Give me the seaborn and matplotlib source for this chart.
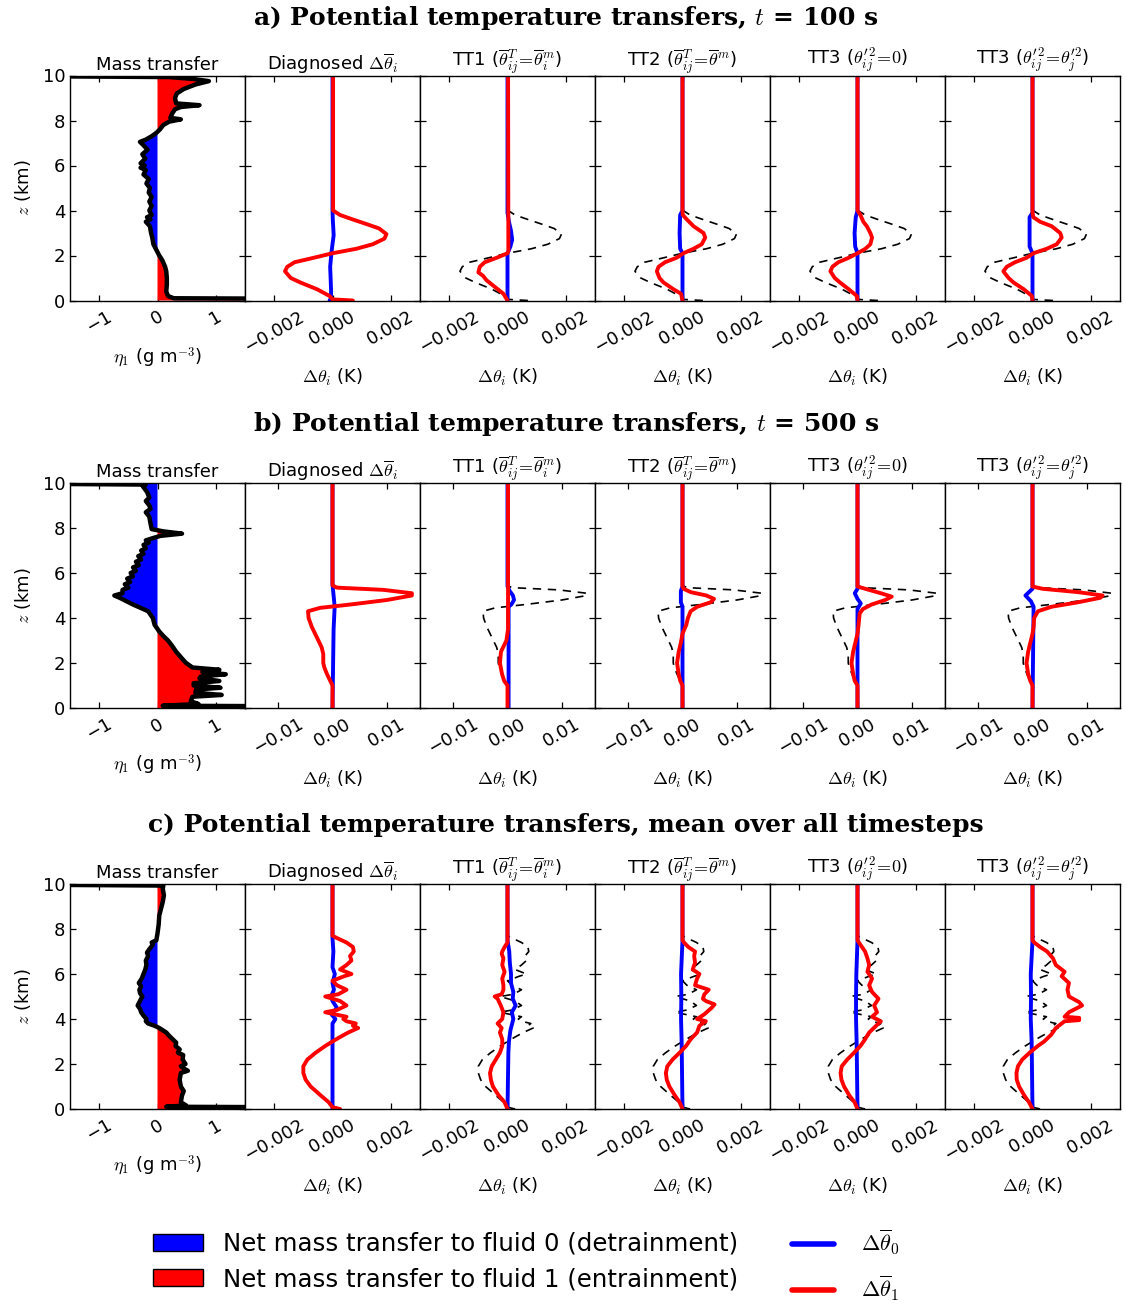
import numpy as np
import matplotlib
matplotlib.use("Agg")
import matplotlib.pyplot as plt
import seaborn as sns
from matplotlib.patches import Patch
from matplotlib.lines import Line2D

# ---------------- DATA ----------------
# Row a: t = 100 s
a_mass_z = [0.0, 0.06, 0.1, 0.2, 0.4, 0.7, 1.0, 1.3, 1.5, 1.8, 2.0, 2.3, 2.5, 2.8, 3.0, 3.3, 3.5, 3.6, 3.7, 3.8,
            4.0, 4.2, 4.4, 4.6, 4.8, 5.0, 5.2, 5.4, 5.6, 5.8, 5.9, 6.0, 6.1, 6.3, 6.5, 6.7, 6.9, 7.05, 7.15, 7.3,
            7.45, 7.6, 7.8, 7.95, 8.05, 8.12, 8.3, 8.5, 8.6, 8.68, 8.76, 9.0, 9.2, 9.4, 9.6, 9.75, 9.85, 9.93, 10.0]
a_mass_v = [4.0, 4.0, 0.28, 0.18, 0.15, 0.16, 0.16, 0.15, 0.13, 0.08, 0.03, -0.03, -0.07, -0.09, -0.11, -0.13, -0.2, -0.12, -0.18, -0.1,
            -0.14, -0.1, -0.14, -0.1, -0.15, -0.13, -0.19, -0.15, -0.24, -0.2, -0.29, -0.22, -0.29, -0.21, -0.26, -0.17, -0.24, -0.3, -0.2, -0.1,
            -0.02, 0.04, 0.1, 0.2, 0.4, 0.22, 0.25, 0.3, 0.4, 0.72, 0.32, 0.3, 0.33, 0.45, 0.65, 0.88, 0.6, 0.2, -4.0]

a_diag_red_z = [0.0, 0.05, 0.2, 0.5, 0.8, 1.0, 1.3, 1.5, 1.7, 1.9, 2.1, 2.3, 2.5, 2.75, 2.95, 3.2, 3.4, 3.6, 3.8, 4.0, 10.0]
a_diag_red_v = [0.0007, 0.0, -0.0001, -0.00053, -0.0011, -0.00143, -0.00163, -0.00155, -0.0013, -0.00064, 0.0, 0.00082,
                0.00138, 0.00178, 0.00185, 0.0016, 0.00116, 0.0007, 0.00026, 0.00002, 0.00002]
a_diag_blue_z = [0.0, 0.1, 0.5, 1.5, 2.2, 2.9, 3.6, 4.0, 10.0]
a_diag_blue_v = [-0.0001, -0.00005, -0.00005, -0.00008, -0.00003, 0.00004, 0.00001, 0.0, 0.0]

a_tt1_red_z = [0.0, 0.3, 0.6, 0.9, 1.1, 1.25, 1.5, 1.7, 1.9, 2.1, 2.2, 10.0]
a_tt1_red_v = [0.0, -0.00014, -0.00043, -0.00072, -0.00084, -0.001, -0.00095, -0.00078, -0.00037, 0.0, 0.00003, 0.00002]
a_tt1_blue_z = [0.0, 2.1, 2.4, 2.7, 3.1, 3.5, 3.9, 10.0]
a_tt1_blue_v = [0.0, 0.0, 0.0001, 0.00016, 0.00012, 0.00005, 0.0, 0.0]

a_tt2_red_z = [0.0, 0.3, 0.5, 0.8, 1.0, 1.3, 1.5, 1.7, 1.9, 2.1, 2.3, 2.5, 2.8, 3.0, 3.3, 3.6, 3.8, 4.0, 10.0]
a_tt2_red_v = [0.0, -0.00005, -0.00031, -0.00065, -0.00079, -0.00088, -0.00082, -0.0006, -0.0002, 0.00003, 0.00038,
               0.00066, 0.00078, 0.00072, 0.00038, 0.00015, 0.00001, 0.0, 0.0]
a_tt2_blue_z = [0.0, 2.1, 2.3, 3.0, 3.8, 4.0, 10.0]
a_tt2_blue_v = [0.0, 0.0, -0.00008, -0.0001, -0.00008, 0.0, 0.0]

a_tt3a_red_z = [0.0, 0.2, 0.5, 0.8, 1.0, 1.3, 1.5, 1.7, 1.9, 2.1, 2.3, 2.5, 2.8, 3.0, 3.3, 3.5, 3.8, 4.0, 10.0]
a_tt3a_red_v = [0.0, -0.00002, -0.0003, -0.0006, -0.00078, -0.00093, -0.00086, -0.00066, -0.0003, 0.0, 0.00027,
                0.00044, 0.0005, 0.00044, 0.00032, 0.0002, 0.0001, 0.0, 0.0]
a_tt3a_blue_z = [0.0, 2.1, 2.4, 3.0, 3.7, 4.0, 10.0]
a_tt3a_blue_v = [0.0, 0.0, -0.00008, -0.0001, -0.00006, 0.0, 0.0]

a_tt3b_red_z = [0.0, 0.2, 0.5, 0.8, 1.0, 1.3, 1.5, 1.7, 1.9, 2.1, 2.3, 2.5, 2.8, 3.0, 3.3, 3.5, 3.7, 3.9, 10.0]
a_tt3b_red_v = [0.0, -0.00002, -0.0003, -0.00065, -0.00082, -0.001, -0.00088, -0.0006, -0.0002, 0.00003, 0.00049,
                0.00083, 0.001, 0.00095, 0.00066, 0.00026, 0.00003, 0.0, 0.0]
a_tt3b_blue_z = [0.0, 2.1, 2.4, 3.0, 3.7, 3.9, 10.0]
a_tt3b_blue_v = [0.0, 0.0, -0.0001, -0.0001, -0.0001, 0.0, 0.0]

# Row b: t = 500 s
b_mass_z = [0.0, 0.06, 0.1, 0.18, 0.3, 0.5, 0.58, 0.68, 0.82, 0.9, 1.0, 1.1, 1.2, 1.32, 1.4, 1.5, 1.6, 1.7, 1.8, 2.0,
            2.2, 2.5, 2.8, 3.0, 3.2, 3.4, 3.7, 4.0, 4.3, 4.6, 4.9, 5.0, 5.1, 5.25, 5.35, 5.5, 5.6, 5.75, 5.85, 6.0,
            6.1, 6.25, 6.35, 6.5, 6.6, 6.75, 6.85, 7.0, 7.1, 7.25, 7.35, 7.45, 7.55, 7.65, 7.75, 7.85, 7.95, 8.2,
            8.5, 8.7, 8.85, 9.0, 9.2, 9.35, 9.6, 9.85, 9.93, 10.0]
b_mass_v = [4.0, 4.0, 0.09, 0.7, 0.57, 0.6, 1.1, 0.65, 0.66, 1.08, 0.62, 0.62, 1.06, 0.72, 0.74, 1.17, 0.77, 1.06, 0.6, 0.49,
            0.42, 0.32, 0.24, 0.18, 0.1, 0.03, -0.05, -0.08, -0.16, -0.42, -0.65, -0.74, -0.6, -0.6, -0.5, -0.56, -0.47, -0.52, -0.42, -0.46,
            -0.37, -0.42, -0.32, -0.37, -0.28, -0.33, -0.24, -0.28, -0.2, -0.24, -0.15, -0.2, -0.08, 0.05, 0.42, 0.1, -0.1, -0.12,
            -0.14, -0.2, -0.12, -0.14, -0.2, -0.14, -0.18, -0.25, -0.2, -4.0]

b_diag_red_z = [0.0, 1.0, 1.2, 1.5, 1.8, 2.0, 2.4, 2.7, 3.0, 3.3, 3.6, 4.0, 4.3, 4.45, 4.6, 4.8, 5.0, 5.1, 5.25, 5.35, 5.45, 10.0]
b_diag_red_v = [0.0, 0.0, -0.0004, -0.001, -0.0015, -0.0017, -0.0017, -0.002, -0.0026, -0.0032, -0.0038, -0.0044, -0.0045,
                -0.0023, 0.0033, 0.01, 0.0146, 0.0146, 0.0094, 0.0008, 0.0, 0.0]
b_diag_blue_z = [0.0, 3.5, 4.5, 5.0, 5.5, 10.0]
b_diag_blue_v = [0.0, 0.0002, 0.0004, 0.0002, 0.0, 0.0]

b_tt1_red_z = [0.0, 1.0, 1.2, 1.5, 2.0, 2.5, 2.8, 3.0, 3.5, 4.5, 10.0]
b_tt1_red_v = [0.0, 0.0, -0.0006, -0.001, -0.0014, -0.0012, -0.0006, -0.0002, 0.0001, 0.0001, 0.0001]
b_tt1_blue_z = [0.0, 3.0, 4.5, 4.6, 4.8, 5.0, 5.2, 5.4, 10.0]
b_tt1_blue_v = [0.0002, 0.0002, 0.0002, 0.0007, 0.0012, 0.001, 0.0004, 0.0, 0.0]

b_tt2_red_z = [0.0, 1.0, 1.2, 1.5, 2.0, 2.5, 2.9, 3.3, 3.7, 4.0, 4.3, 4.5, 4.7, 4.85, 5.0, 5.15, 5.3, 5.4, 10.0]
b_tt2_red_v = [0.0, 0.0, -0.0004, -0.0007, -0.001, -0.0007, -0.0003, 0.0, 0.0007, 0.001, 0.0015, 0.0027, 0.0052, 0.0058,
               0.0044, 0.0015, 0.0002, 0.0, 0.0]
b_tt2_blue_z = [0.0, 4.5, 4.7, 5.2, 5.4, 10.0]
b_tt2_blue_v = [0.0, 0.0, -0.0003, -0.0003, 0.0, 0.0]

b_tt3a_red_z = [0.0, 1.0, 1.2, 1.5, 2.0, 2.5, 2.9, 3.3, 3.7, 4.2, 4.4, 4.6, 4.8, 4.95, 5.1, 5.3, 5.4, 10.0]
b_tt3a_red_v = [0.0, 0.0, -0.0005, -0.0008, -0.0011, -0.0008, -0.0004, 0.0, 0.0002, 0.0004, 0.001, 0.0026, 0.0051, 0.0063,
                0.0043, 0.0014, 0.0, 0.0]
b_tt3a_blue_z = [0.0, 4.4, 4.65, 4.85, 5.1, 5.3, 10.0]
b_tt3a_blue_v = [0.0, 0.0, 0.0006, 0.0, -0.0005, 0.0, 0.0]

b_tt3b_red_z = [0.0, 1.0, 1.2, 1.5, 2.0, 2.5, 2.9, 3.3, 3.6, 4.0, 4.3, 4.5, 4.7, 4.9, 5.0, 5.15, 5.3, 5.4, 10.0]
b_tt3b_red_v = [0.0, 0.0, -0.0004, -0.0008, -0.0011, -0.0008, -0.0004, 0.0, 0.0002, 0.0003, 0.001, 0.0035, 0.0084, 0.0125,
                0.0129, 0.0084, 0.0018, 0.0, 0.0]
b_tt3b_blue_z = [0.0, 4.5, 4.75, 5.0, 5.3, 10.0]
b_tt3b_blue_v = [0.0, 0.0002, -0.0003, -0.0013, 0.0, 0.0]

# Row c: mean over all timesteps
c_mass_z = [0.0, 0.06, 0.1, 0.16, 0.3, 0.6, 0.8, 1.0, 1.3, 1.6, 1.7, 1.8, 1.9, 2.0, 2.2, 2.4, 2.5, 2.65, 2.8, 2.95,
            3.1, 3.25, 3.4, 3.6, 3.7, 3.8, 3.9, 4.0, 4.15, 4.3, 4.45, 4.6, 4.8, 5.0, 5.15, 5.3, 5.45, 5.6, 5.8, 6.0,
            6.2, 6.4, 6.6, 6.8, 6.95, 7.1, 7.3, 7.4, 7.5, 7.8, 8.2, 8.6, 8.9, 9.2, 9.5, 9.8, 9.93, 10.0]
c_mass_v = [4.0, 4.0, 0.15, 0.49, 0.4, 0.42, 0.45, 0.4, 0.38, 0.4, 0.52, 0.45, 0.4, 0.48, 0.43, 0.44, 0.35, 0.38, 0.31, 0.32,
            0.26, 0.2, 0.15, 0.03, -0.05, -0.16, -0.2, -0.19, -0.24, -0.28, -0.3, -0.34, -0.3, -0.26, -0.3, -0.31, -0.28, -0.32, -0.27, -0.24,
            -0.21, -0.19, -0.2, -0.16, -0.18, -0.14, -0.08, -0.1, -0.02, 0.0, 0.02, 0.03, 0.06, 0.09, 0.11, 0.09, 0.1, -4.0]

c_diag_red_z = [0.0, 0.08, 0.3, 0.6, 1.0, 1.3, 1.6, 1.9, 2.2, 2.5, 2.8, 3.0, 3.2, 3.4, 3.6, 3.7, 3.8, 3.9, 4.0, 4.1,
                4.3, 4.4, 4.6, 4.8, 5.0, 5.1, 5.3, 5.5, 5.7, 5.9, 6.0, 6.2, 6.4, 6.6, 6.8, 7.0, 7.2, 7.4, 7.6, 7.7, 10.0]
c_diag_red_v = [0.00026, 0.0, -0.00013, -0.0004, -0.00075, -0.00092, -0.001, -0.001, -0.00086, -0.00058, -0.00025, 0.0,
                0.00026, 0.00054, 0.00088, 0.0007, 0.0008, 0.00048, 0.00037, 0.00048, -0.00025, 0.00015, 0.00048, 0.00026,
                -0.00025, 0.0002, 0.00048, 0.00015, 0.0, 0.0004, 0.00065, 0.00026, 0.00048, 0.00065, 0.0006, 0.00073,
                0.0007, 0.00048, 0.00015, 0.0, 0.0]
c_diag_blue_z = [0.0, 3.8, 4.0, 4.2, 4.5, 4.8, 5.0, 5.3, 5.6, 6.0, 6.3, 7.0, 7.6, 10.0]
c_diag_blue_v = [0.0, 0.0, 0.0001, -0.00003, 0.00015, 0.0, -0.00005, 0.00005, 0.0, 0.00008, 0.0, 0.00003, 0.0, 0.0]

c_tt1_red_z = [0.0, 0.3, 0.6, 1.0, 1.3, 1.6, 1.9, 2.2, 2.5, 2.8, 3.1, 3.4, 3.6, 3.8, 4.0, 4.3, 4.6, 4.9, 5.0, 5.1,
               5.3, 5.5, 5.8, 6.1, 6.4, 6.7, 6.9, 7.0, 7.2, 7.4, 10.0]
c_tt1_red_v = [0.0, -0.0001, -0.0003, -0.0005, -0.00057, -0.0006, -0.00054, -0.0004, -0.00026, -0.00018, -0.00018,
               -0.00026, -0.0002, -0.00034, -0.00018, -0.00014, -0.00023, -0.00034, -0.00044, -0.0002, -0.00014,
               -0.00014, -0.00018, -0.0001, -0.00018, -0.00014, -0.0002, -0.00018, -0.0001, 0.0, 0.0]
c_tt1_blue_z = [0.0, 2.5, 3.0, 3.5, 4.0, 4.3, 4.6, 4.9, 5.2, 5.6, 6.0, 6.5, 7.0, 7.5, 10.0]
c_tt1_blue_v = [0.0, 0.00003, 0.00005, 0.0001, 0.0002, 0.00015, 0.00028, 0.00018, 0.0002, 0.00012, 0.00012, 0.00008,
                0.00006, 0.0, 0.0]

c_tt2_red_z = [0.0, 0.3, 0.6, 1.0, 1.3, 1.6, 1.9, 2.2, 2.5, 2.8, 3.1, 3.4, 3.7, 3.9, 4.0, 4.2, 4.5, 4.65, 4.8, 4.9,
               5.1, 5.3, 5.5, 5.8, 6.0, 6.2, 6.5, 6.8, 7.0, 7.2, 7.4, 7.5, 10.0]
c_tt2_red_v = [0.0, -0.0001, -0.00026, -0.00045, -0.00054, -0.00057, -0.00052, -0.00034, -0.0001, 0.00012, 0.00028,
               0.0005, 0.00058, 0.0008, 0.0005, 0.00074, 0.001, 0.0011, 0.0008, 0.0007, 0.00075, 0.0009, 0.00043,
               0.0005, 0.00058, 0.00035, 0.00043, 0.0004, 0.00043, 0.0002, 0.00005, 0.0, 0.0]
c_tt2_blue_z = [0.0, 3.0, 4.0, 5.0, 6.0, 7.5, 10.0]
c_tt2_blue_v = [0.0, -0.00003, -0.00005, -0.00004, -0.00005, 0.0, 0.0]

c_tt3a_red_z = [0.0, 0.3, 0.6, 1.0, 1.3, 1.6, 1.9, 2.2, 2.5, 2.8, 3.1, 3.4, 3.7, 3.9, 4.1, 4.3, 4.6, 4.9, 5.2, 5.5,
                5.8, 6.1, 6.4, 6.7, 7.0, 7.3, 7.5, 10.0]
c_tt3a_red_v = [0.0, -0.0001, -0.00028, -0.00046, -0.00055, -0.00058, -0.00054, -0.00035, -0.00012, 0.0001, 0.00026,
                0.0004, 0.00064, 0.0008, 0.0005, 0.00067, 0.00057, 0.00072, 0.0005, 0.0004, 0.0005, 0.00034, 0.0004,
                0.00034, 0.00026, 0.0001, 0.0, 0.0]
c_tt3a_blue_z = [0.0, 3.0, 4.0, 5.0, 6.0, 7.5, 10.0]
c_tt3a_blue_v = [0.0, -0.00003, -0.00005, -0.00005, -0.00004, 0.0, 0.0]

c_tt3b_red_z = [0.0, 0.3, 0.6, 1.0, 1.3, 1.6, 1.9, 2.2, 2.5, 2.8, 3.0, 3.3, 3.6, 3.9, 3.95, 4.05, 4.1, 4.3, 4.6, 4.75,
                5.0, 5.3, 5.6, 5.9, 6.1, 6.4, 6.7, 7.0, 7.2, 7.4, 7.5, 10.0]
c_tt3b_red_v = [0.0, -0.00012, -0.00028, -0.00046, -0.00054, -0.00055, -0.0005, -0.00035, -0.0001, 0.00018, 0.0004,
                0.00064, 0.0008, 0.0011, 0.0016, 0.0016, 0.0011, 0.00125, 0.0017, 0.0016, 0.00125, 0.0012, 0.00125,
                0.001, 0.0011, 0.0008, 0.0007, 0.0005, 0.00026, 0.00006, 0.0, 0.0]
c_tt3b_blue_z = [0.0, 3.0, 4.0, 5.0, 6.0, 7.5, 10.0]
c_tt3b_blue_v = [0.0, -0.00003, -0.00006, -0.00005, -0.00006, 0.0, 0.0]

row_titles = [r"a) Potential temperature transfers, $t$ = 100 s",
              r"b) Potential temperature transfers, $t$ = 500 s",
              r"c) Potential temperature transfers, mean over all timesteps"]
panel_titles = ["Mass transfer",
                r"Diagnosed $\Delta\overline{\theta}_i$",
                r"TT1 ($\overline{\theta}^T_{ij}\!=\!\overline{\theta}^m_i$)",
                r"TT2 ($\overline{\theta}^T_{ij}\!=\!\overline{\theta}^m$)",
                r"TT3 ($\theta^{\prime\,2}_{ij}\!=\!0$)",
                r"TT3 ($\theta^{\prime\,2}_{ij}\!=\!\theta^{\prime 2}_j$)"]
mass_ticks = [-1, 0, 1]
dtheta_ticks_small = [-0.002, 0.0, 0.002]
dtheta_ticks_large = [-0.01, 0.0, 0.01]
z_ticks = [0, 2, 4, 6, 8, 10]
legend_labels = ["Net mass transfer to fluid 0 (detrainment)",
                 "Net mass transfer to fluid 1 (entrainment)",
                 r"$\Delta\overline{\theta}_0$", r"$\Delta\overline{\theta}_1$"]

rows = [
    dict(mass=(a_mass_z, a_mass_v), diag=((a_diag_red_z, a_diag_red_v), (a_diag_blue_z, a_diag_blue_v)),
         tt=[((a_tt1_red_z, a_tt1_red_v), (a_tt1_blue_z, a_tt1_blue_v)),
             ((a_tt2_red_z, a_tt2_red_v), (a_tt2_blue_z, a_tt2_blue_v)),
             ((a_tt3a_red_z, a_tt3a_red_v), (a_tt3a_blue_z, a_tt3a_blue_v)),
             ((a_tt3b_red_z, a_tt3b_red_v), (a_tt3b_blue_z, a_tt3b_blue_v))],
         xlim=0.003, ticks=dtheta_ticks_small),
    dict(mass=(b_mass_z, b_mass_v), diag=((b_diag_red_z, b_diag_red_v), (b_diag_blue_z, b_diag_blue_v)),
         tt=[((b_tt1_red_z, b_tt1_red_v), (b_tt1_blue_z, b_tt1_blue_v)),
             ((b_tt2_red_z, b_tt2_red_v), (b_tt2_blue_z, b_tt2_blue_v)),
             ((b_tt3a_red_z, b_tt3a_red_v), (b_tt3a_blue_z, b_tt3a_blue_v)),
             ((b_tt3b_red_z, b_tt3b_red_v), (b_tt3b_blue_z, b_tt3b_blue_v))],
         xlim=0.0161, ticks=dtheta_ticks_large),
    dict(mass=(c_mass_z, c_mass_v), diag=((c_diag_red_z, c_diag_red_v), (c_diag_blue_z, c_diag_blue_v)),
         tt=[((c_tt1_red_z, c_tt1_red_v), (c_tt1_blue_z, c_tt1_blue_v)),
             ((c_tt2_red_z, c_tt2_red_v), (c_tt2_blue_z, c_tt2_blue_v)),
             ((c_tt3a_red_z, c_tt3a_red_v), (c_tt3a_blue_z, c_tt3a_blue_v)),
             ((c_tt3b_red_z, c_tt3b_red_v), (c_tt3b_blue_z, c_tt3b_blue_v))],
         xlim=0.003, ticks=dtheta_ticks_small),
]

# ---------------- STYLE ----------------
sns.set_style("ticks")
plt.rcParams.update({
    "font.family": ["DejaVu Sans"],
    "mathtext.fontset": "cm",
    "text.color": "black", "axes.labelcolor": "black",
    "xtick.direction": "in", "ytick.direction": "in",
    "xtick.top": True, "ytick.right": True,
    "xtick.major.size": 4.5, "ytick.major.size": 4.5,
    "xtick.major.width": 0.9, "ytick.major.width": 0.9,
    "axes.linewidth": 1.0, "axes.edgecolor": "black",
    "xtick.color": "black", "ytick.color": "black",
    "xtick.labelcolor": "black", "ytick.labelcolor": "black",
    "xtick.labelsize": 13, "ytick.labelsize": 13,
})

W, H = 1126, 1306
fig = plt.figure(figsize=(W / 100, H / 100), dpi=100)
col_left = [70, 245, 420, 595, 770, 945]
row_top = [75.5, 483, 884]
pw, ph = 175, 225
title_y = [18, 424, 825]


def prof(ax, z, v, color, lw, ls="-"):
    sns.lineplot(x=np.asarray(v), y=np.asarray(z), sort=False, estimator=None, color=color,
                 linewidth=lw, linestyle=ls, ax=ax, legend=False)


def style_ax(ax, xlim, ticks, first):
    ax.set_ylim(0, 10)
    ax.set_xlim(-xlim, xlim)
    ax.set_yticks(z_ticks)
    ax.set_xticks(ticks)
    ax.tick_params(axis="x", labelrotation=30, pad=5)
    ax.tick_params(which="both", top=True, right=True, direction="in")
    for s in ax.spines.values():
        s.set_visible(True)
        s.set_color("black")
    if first:
        ax.set_ylabel(r"$z$ (km)", fontsize=13, labelpad=7)
    else:
        ax.set_yticklabels([])
        ax.set_ylabel("")


for r, row in enumerate(rows):
    fig.text(566 / W, 1 - title_y[r] / H, row_titles[r], ha="center", va="center",
             fontsize=18, fontweight="bold", family="DejaVu Serif", color="black")
    axes = []
    for c in range(6):
        ax = fig.add_axes([col_left[c] / W, 1 - (row_top[r] + ph) / H, pw / W, ph / H])
        axes.append(ax)
        ax.set_title(panel_titles[c], fontsize=13, pad=4, color="black")
    # mass transfer
    ax = axes[0]
    mz, mv = np.asarray(row["mass"][0]), np.asarray(row["mass"][1])
    ax.fill_betweenx(mz, 0, mv, where=mv >= 0, interpolate=True, color="red", lw=0)
    ax.fill_betweenx(mz, 0, mv, where=mv <= 0, interpolate=True, color="blue", lw=0)
    prof(ax, mz, mv, "black", 3.2)
    style_ax(ax, 1.5, mass_ticks, True)
    ax.set_xlabel(r"$\eta_1$ (g m$^{-3}$)", fontsize=13, labelpad=6)
    # diagnosed
    ax = axes[1]
    (rz, rv), (bz, bv) = row["diag"]
    prof(ax, bz, bv, "blue", 2.8)
    prof(ax, rz, rv, "red", 2.8)
    style_ax(ax, row["xlim"], row["ticks"], False)
    ax.set_xlabel(r"$\Delta\theta_i$ (K)", fontsize=13, labelpad=8)
    # transfer terms
    for k, ((tz, tv), (uz, uv)) in enumerate(row["tt"]):
        ax = axes[2 + k]
        prof(ax, rz, rv, "black", 1.2, (0, (5, 4)))
        prof(ax, uz, uv, "blue", 2.8)
        prof(ax, tz, tv, "red", 2.8)
        style_ax(ax, row["xlim"], row["ticks"], False)
        ax.set_xlabel(r"$\Delta\theta_i$ (K)", fontsize=13, labelpad=8)

# legends
h1 = [Patch(facecolor="blue", edgecolor="black", lw=1), Patch(facecolor="red", edgecolor="black", lw=1)]
leg1 = fig.legend(h1, legend_labels[:2], loc="upper left", bbox_to_anchor=(153 / W, 1 - 1232 / H),
                  frameon=False, fontsize=17.6, handlelength=2.06, handleheight=0.72,
                  handletextpad=0.82, labelspacing=0.45, borderaxespad=0, borderpad=0, labelcolor="black")
h2 = [Line2D([], [], color="blue", lw=4), Line2D([], [], color="red", lw=4)]
leg2 = fig.legend(h2, legend_labels[2:], loc="upper left", bbox_to_anchor=(792 / W, 1 - 1228 / H),
                  frameon=False, fontsize=16, handlelength=1.9, handletextpad=1.2,
                  labelspacing=0.75, borderaxespad=0, borderpad=0, labelcolor="black")

fig.savefig("out.png", dpi=100)
